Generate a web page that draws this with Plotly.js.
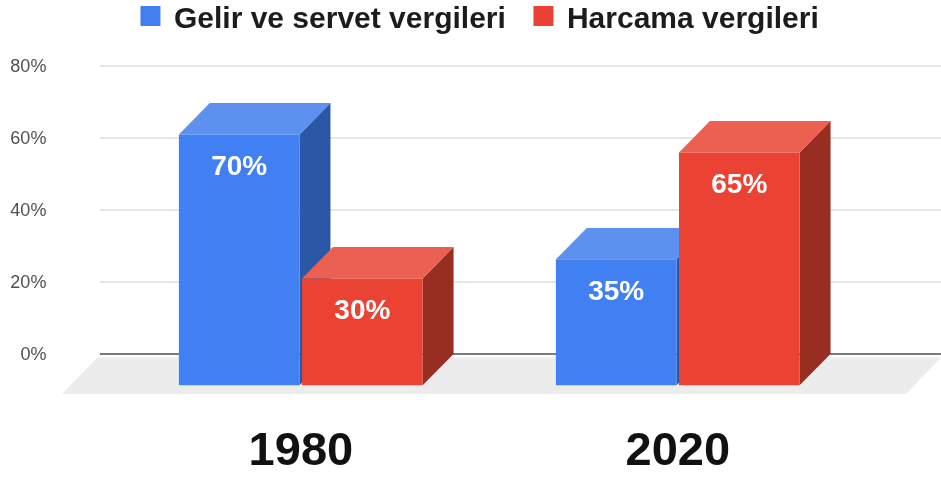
<!DOCTYPE html>
<html>
<head>
<meta charset="utf-8">
<script src="https://cdn.plot.ly/plotly-3.0.1.min.js"></script>
<style>html,body{margin:0;padding:0;background:#fff}#chart{filter:blur(0.5px)}</style>
</head>
<body>
<div id="chart" style="width:941px;height:478px"></div>
<script>
const categories = ['1980', '2020'];
const seriesNames = ['Gelir ve servet vergileri', 'Harcama vergileri'];
const incomeTaxes = [69.7, 35];
const spendingTaxes = [29.7, 64.7];
const incomeLabels = ['70%', '35%'];
const spendingLabels = ['30%', '65%'];
const yTicks = [0, 20, 40, 60, 80];

const FONT = '"Liberation Sans", Arial, sans-serif';
const catPos = categories.map((_, i) => i);
const depthX = 0.082, depthY = 8.7, barW = 0.32;
const offsets = [-0.3236, 0.003];
const colors = [
  {front: '#4080f2', top: '#5d91f0', side: '#2a57a6'},
  {front: '#ea4233', top: '#ec6052', side: '#982d22'}
];

function faces(values, offset) {
  const top = {x: [], y: []}, side = {x: [], y: []};
  values.forEach((v, i) => {
    const l = catPos[i] + offset, r = l + barW, ft = v - depthY;
    top.x.push(l, l + depthX, r + depthX, r, l, null);
    top.y.push(ft, v, v, ft, ft, null);
    side.x.push(r, r + depthX, r + depthX, r, r, null);
    side.y.push(ft, v, 0, -depthY, ft, null);
  });
  return {top, side};
}
function poly(d, color, z) {
  return {type: 'scatter', mode: 'lines', x: d.x, y: d.y, fill: 'toself', fillcolor: color,
    line: {width: 0, color: color}, showlegend: false, hoverinfo: 'skip', zorder: z};
}
function bar(values, offset, c, z) {
  return {type: 'bar', x: catPos, y: values, base: values.map(() => -depthY), width: barW, offset: offset,
    marker: {color: c.front, line: {width: 0}}, showlegend: false, hoverinfo: 'skip', zorder: z};
}
function labels(values, text, offset, z) {
  return {type: 'scatter', mode: 'text', x: catPos.map(p => p + offset + barW / 2),
    y: values.map(v => v - depthY - 9.3), text: text, textposition: 'middle center',
    textfont: {family: FONT, size: 28, color: '#fff', weight: 700}, showlegend: false, hoverinfo: 'skip', zorder: z};
}
function legendItem(name, color) {
  return {type: 'scatter', mode: 'markers', x: [null], y: [null], name: name,
    marker: {symbol: 'square', size: 16, color: color, line: {width: 4, color: color}}};
}

const gridLeft = -0.533, xMax = 1.698;
const gridX = [], gridY = [];
yTicks.filter(t => t !== 0).forEach(t => { gridX.push(gridLeft, xMax, null); gridY.push(t, t, null); });

const f0 = faces(incomeTaxes, offsets[0]), f1 = faces(spendingTaxes, offsets[1]);

const traces = [
  {type: 'scatter', mode: 'lines', x: [-0.634, gridLeft - 0.007, xMax, 1.605, -0.634], y: [-11.1, -1, -1, -11.1, -11.1],
   fill: 'toself', fillcolor: '#ececec', line: {width: 0}, showlegend: false, hoverinfo: 'skip', zorder: 0},
  {type: 'scatter', mode: 'lines', x: gridX, y: gridY, line: {color: '#dedede', width: 1.6}, showlegend: false, hoverinfo: 'skip', zorder: 1},
  {type: 'scatter', mode: 'lines', x: [gridLeft, xMax], y: [0, 0], line: {color: '#7a7a7a', width: 2}, showlegend: false, hoverinfo: 'skip', zorder: 1},
  poly(f0.side, colors[0].side, 2),
  poly(f0.top, colors[0].top, 2),
  bar(incomeTaxes, offsets[0], colors[0], 3),
  poly(f1.side, colors[1].side, 4),
  poly(f1.top, colors[1].top, 4),
  bar(spendingTaxes, offsets[1], colors[1], 5),
  labels(incomeTaxes, incomeLabels, offsets[0], 6),
  labels(spendingTaxes, spendingLabels, offsets[1], 6),
  legendItem(seriesNames[0], colors[0].front),
  legendItem(seriesNames[1], colors[1].front)
];

const layout = {
  width: 941, height: 478,
  margin: {l: 60, r: 0, t: 60, b: 83, autoexpand: false},
  paper_bgcolor: '#fff', plot_bgcolor: '#fff',
  barmode: 'overlay',
  font: {family: FONT},
  showlegend: true,
  legend: {orientation: 'h', x: 0.076, xanchor: 'left', y: 1.131, yanchor: 'middle',
    itemwidth: 37, entrywidth: 341, entrywidthmode: 'pixels', bgcolor: 'rgba(0,0,0,0)',
    font: {family: FONT, size: 30, color: '#1c1c1c', weight: 700}},
  xaxis: {type: 'linear', range: [-0.639, xMax], tickmode: 'array', tickvals: catPos, ticktext: categories,
    showgrid: false, zeroline: false, showline: false, ticks: 'outside', ticklen: 13, tickcolor: 'rgba(0,0,0,0)',
    tickfont: {family: FONT, size: 47, color: '#111', weight: 700}},
  yaxis: {range: [-11.39, 81.67], tickmode: 'array', tickvals: yTicks, ticktext: yTicks.map(t => t + '%'),
    showgrid: false, zeroline: false, showline: false, ticks: 'outside', ticklen: 9, tickcolor: 'rgba(0,0,0,0)',
    tickfont: {family: FONT, size: 18, color: '#505050'}}
};
Plotly.newPlot('chart', traces, layout, {displayModeBar: false, staticPlot: true});
</script>
</body>
</html>
